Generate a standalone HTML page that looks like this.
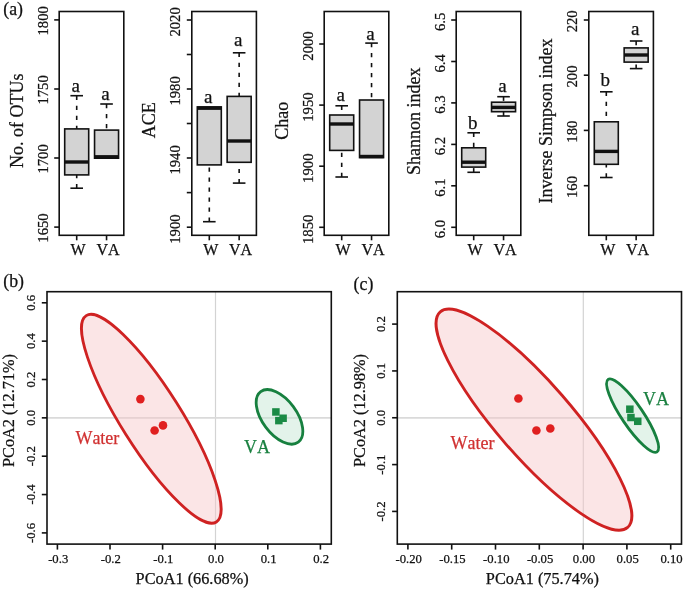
<!DOCTYPE html><html><head><meta charset="utf-8"><style>html,body{margin:0;padding:0;background:#fff;width:685px;height:589px;overflow:hidden;position:relative}</style></head><body><svg width="685" height="589" viewBox="0 0 685 589" style="position:absolute;left:0;top:0;will-change:transform">
<style>text{stroke-width:0.25px;paint-order:fill}</style>
<g font-family='"Liberation Serif", serif' style="font-kerning:none">
<line x1="54.20" y1="19.90" x2="59.20" y2="19.90" stroke="#111" stroke-width="1.6" />
<text transform="translate(47.80,20.80) rotate(-90)" text-anchor="middle" font-size="14.7" fill="#111" stroke="#111" >1800</text>
<line x1="54.20" y1="89.00" x2="59.20" y2="89.00" stroke="#111" stroke-width="1.6" />
<text transform="translate(47.80,89.90) rotate(-90)" text-anchor="middle" font-size="14.7" fill="#111" stroke="#111" >1750</text>
<line x1="54.20" y1="158.00" x2="59.20" y2="158.00" stroke="#111" stroke-width="1.6" />
<text transform="translate(47.80,158.90) rotate(-90)" text-anchor="middle" font-size="14.7" fill="#111" stroke="#111" >1700</text>
<line x1="54.20" y1="227.10" x2="59.20" y2="227.10" stroke="#111" stroke-width="1.6" />
<text transform="translate(47.80,228.00) rotate(-90)" text-anchor="middle" font-size="14.7" fill="#111" stroke="#111" >1650</text>
<text transform="translate(22.90,120.70) rotate(-90)" text-anchor="middle" font-size="18" fill="#111" stroke="#111" >No. of OTUs</text>
<line x1="76.70" y1="95.70" x2="76.70" y2="128.90" stroke="#111" stroke-width="1.6" stroke-dasharray="4.2,5.8"/>
<line x1="70.40" y1="95.70" x2="83.00" y2="95.70" stroke="#111" stroke-width="1.6" />
<line x1="76.70" y1="188.20" x2="76.70" y2="174.90" stroke="#111" stroke-width="1.6" stroke-dasharray="4.2,5.8"/>
<line x1="70.40" y1="188.20" x2="83.00" y2="188.20" stroke="#111" stroke-width="1.6" />
<rect x="64.70" y="128.90" width="24.00" height="46.00" fill="#d3d3d3" stroke="#111" stroke-width="1.6"/>
<line x1="64.70" y1="162.00" x2="88.70" y2="162.00" stroke="#111" stroke-width="3.4" />
<text x="75.70" y="91.90" text-anchor="middle" font-size="19" fill="#111" stroke="#111" >a</text>
<line x1="76.70" y1="235.30" x2="76.70" y2="240.30" stroke="#111" stroke-width="1.6" />
<text x="78.10" y="255.40" text-anchor="middle" font-size="16" fill="#111" stroke="#111" >W</text>
<line x1="106.55" y1="104.00" x2="106.55" y2="130.10" stroke="#111" stroke-width="1.6" stroke-dasharray="4.2,5.8"/>
<line x1="100.25" y1="104.00" x2="112.85" y2="104.00" stroke="#111" stroke-width="1.6" />
<rect x="94.55" y="130.10" width="24.00" height="28.10" fill="#d3d3d3" stroke="#111" stroke-width="1.6"/>
<line x1="94.55" y1="156.80" x2="118.55" y2="156.80" stroke="#111" stroke-width="3.4" />
<text x="105.55" y="100.00" text-anchor="middle" font-size="19" fill="#111" stroke="#111" >a</text>
<line x1="106.55" y1="235.30" x2="106.55" y2="240.30" stroke="#111" stroke-width="1.6" />
<text x="107.95" y="255.40" text-anchor="middle" font-size="16" fill="#111" stroke="#111" >VA</text>
<rect x="59.20" y="11.50" width="64.60" height="223.80" fill="none" stroke="#111" stroke-width="1.6"/>
<line x1="186.80" y1="20.00" x2="191.80" y2="20.00" stroke="#111" stroke-width="1.6" />
<text transform="translate(180.40,21.90) rotate(-90)" text-anchor="middle" font-size="14.7" fill="#111" stroke="#111" >2020</text>
<line x1="186.80" y1="54.50" x2="191.80" y2="54.50" stroke="#111" stroke-width="1.6" />
<line x1="186.80" y1="89.00" x2="191.80" y2="89.00" stroke="#111" stroke-width="1.6" />
<text transform="translate(180.40,90.90) rotate(-90)" text-anchor="middle" font-size="14.7" fill="#111" stroke="#111" >1980</text>
<line x1="186.80" y1="123.50" x2="191.80" y2="123.50" stroke="#111" stroke-width="1.6" />
<line x1="186.80" y1="158.00" x2="191.80" y2="158.00" stroke="#111" stroke-width="1.6" />
<text transform="translate(180.40,159.90) rotate(-90)" text-anchor="middle" font-size="14.7" fill="#111" stroke="#111" >1940</text>
<line x1="186.80" y1="192.60" x2="191.80" y2="192.60" stroke="#111" stroke-width="1.6" />
<line x1="186.80" y1="227.20" x2="191.80" y2="227.20" stroke="#111" stroke-width="1.6" />
<text transform="translate(180.40,229.10) rotate(-90)" text-anchor="middle" font-size="14.7" fill="#111" stroke="#111" >1900</text>
<text transform="translate(154.80,120.30) rotate(-90)" text-anchor="middle" font-size="18" fill="#111" stroke="#111" >ACE</text>
<line x1="209.30" y1="221.70" x2="209.30" y2="164.90" stroke="#111" stroke-width="1.6" stroke-dasharray="4.2,5.8"/>
<line x1="203.00" y1="221.70" x2="215.60" y2="221.70" stroke="#111" stroke-width="1.6" />
<rect x="197.30" y="106.90" width="24.00" height="58.00" fill="#d3d3d3" stroke="#111" stroke-width="1.6"/>
<line x1="197.30" y1="108.20" x2="221.30" y2="108.20" stroke="#111" stroke-width="3.4" />
<text x="208.30" y="102.60" text-anchor="middle" font-size="19" fill="#111" stroke="#111" >a</text>
<line x1="209.30" y1="235.30" x2="209.30" y2="240.30" stroke="#111" stroke-width="1.6" />
<text x="210.70" y="255.40" text-anchor="middle" font-size="16" fill="#111" stroke="#111" >W</text>
<line x1="239.15" y1="52.80" x2="239.15" y2="96.40" stroke="#111" stroke-width="1.6" stroke-dasharray="4.2,5.8"/>
<line x1="232.85" y1="52.80" x2="245.45" y2="52.80" stroke="#111" stroke-width="1.6" />
<line x1="239.15" y1="183.10" x2="239.15" y2="162.30" stroke="#111" stroke-width="1.6" stroke-dasharray="4.2,5.8"/>
<line x1="232.85" y1="183.10" x2="245.45" y2="183.10" stroke="#111" stroke-width="1.6" />
<rect x="227.15" y="96.40" width="24.00" height="65.90" fill="#d3d3d3" stroke="#111" stroke-width="1.6"/>
<line x1="227.15" y1="141.00" x2="251.15" y2="141.00" stroke="#111" stroke-width="3.4" />
<text x="238.15" y="46.20" text-anchor="middle" font-size="19" fill="#111" stroke="#111" >a</text>
<line x1="239.15" y1="235.30" x2="239.15" y2="240.30" stroke="#111" stroke-width="1.6" />
<text x="240.55" y="255.40" text-anchor="middle" font-size="16" fill="#111" stroke="#111" >VA</text>
<rect x="191.80" y="11.50" width="64.60" height="223.80" fill="none" stroke="#111" stroke-width="1.6"/>
<line x1="319.20" y1="44.00" x2="324.20" y2="44.00" stroke="#111" stroke-width="1.6" />
<text transform="translate(312.80,46.00) rotate(-90)" text-anchor="middle" font-size="14.7" fill="#111" stroke="#111" >2000</text>
<line x1="319.20" y1="105.10" x2="324.20" y2="105.10" stroke="#111" stroke-width="1.6" />
<text transform="translate(312.80,107.10) rotate(-90)" text-anchor="middle" font-size="14.7" fill="#111" stroke="#111" >1950</text>
<line x1="319.20" y1="166.20" x2="324.20" y2="166.20" stroke="#111" stroke-width="1.6" />
<text transform="translate(312.80,168.20) rotate(-90)" text-anchor="middle" font-size="14.7" fill="#111" stroke="#111" >1900</text>
<line x1="319.20" y1="227.30" x2="324.20" y2="227.30" stroke="#111" stroke-width="1.6" />
<text transform="translate(312.80,229.30) rotate(-90)" text-anchor="middle" font-size="14.7" fill="#111" stroke="#111" >1850</text>
<text transform="translate(288.10,120.70) rotate(-90)" text-anchor="middle" font-size="18" fill="#111" stroke="#111" >Chao</text>
<line x1="341.70" y1="105.80" x2="341.70" y2="115.00" stroke="#111" stroke-width="1.6" stroke-dasharray="4.2,5.8"/>
<line x1="335.40" y1="105.80" x2="348.00" y2="105.80" stroke="#111" stroke-width="1.6" />
<line x1="341.70" y1="177.00" x2="341.70" y2="150.40" stroke="#111" stroke-width="1.6" stroke-dasharray="4.2,5.8"/>
<line x1="335.40" y1="177.00" x2="348.00" y2="177.00" stroke="#111" stroke-width="1.6" />
<rect x="329.70" y="115.00" width="24.00" height="35.40" fill="#d3d3d3" stroke="#111" stroke-width="1.6"/>
<line x1="329.70" y1="124.00" x2="353.70" y2="124.00" stroke="#111" stroke-width="3.4" />
<text x="340.70" y="101.30" text-anchor="middle" font-size="19" fill="#111" stroke="#111" >a</text>
<line x1="341.70" y1="235.30" x2="341.70" y2="240.30" stroke="#111" stroke-width="1.6" />
<text x="343.10" y="255.40" text-anchor="middle" font-size="16" fill="#111" stroke="#111" >W</text>
<line x1="371.55" y1="43.10" x2="371.55" y2="100.00" stroke="#111" stroke-width="1.6" stroke-dasharray="4.2,5.8"/>
<line x1="365.25" y1="43.10" x2="377.85" y2="43.10" stroke="#111" stroke-width="1.6" />
<rect x="359.55" y="100.00" width="24.00" height="57.60" fill="#d3d3d3" stroke="#111" stroke-width="1.6"/>
<line x1="359.55" y1="156.50" x2="383.55" y2="156.50" stroke="#111" stroke-width="3.4" />
<text x="370.55" y="39.70" text-anchor="middle" font-size="19" fill="#111" stroke="#111" >a</text>
<line x1="371.55" y1="235.30" x2="371.55" y2="240.30" stroke="#111" stroke-width="1.6" />
<text x="372.95" y="255.40" text-anchor="middle" font-size="16" fill="#111" stroke="#111" >VA</text>
<rect x="324.20" y="11.50" width="64.60" height="223.80" fill="none" stroke="#111" stroke-width="1.6"/>
<line x1="451.20" y1="20.00" x2="456.20" y2="20.00" stroke="#111" stroke-width="1.6" />
<text transform="translate(444.80,21.80) rotate(-90)" text-anchor="middle" font-size="14.7" fill="#111" stroke="#111" >6.5</text>
<line x1="451.20" y1="61.50" x2="456.20" y2="61.50" stroke="#111" stroke-width="1.6" />
<text transform="translate(444.80,63.30) rotate(-90)" text-anchor="middle" font-size="14.7" fill="#111" stroke="#111" >6.4</text>
<line x1="451.20" y1="102.90" x2="456.20" y2="102.90" stroke="#111" stroke-width="1.6" />
<text transform="translate(444.80,104.70) rotate(-90)" text-anchor="middle" font-size="14.7" fill="#111" stroke="#111" >6.3</text>
<line x1="451.20" y1="144.40" x2="456.20" y2="144.40" stroke="#111" stroke-width="1.6" />
<text transform="translate(444.80,146.20) rotate(-90)" text-anchor="middle" font-size="14.7" fill="#111" stroke="#111" >6.2</text>
<line x1="451.20" y1="185.80" x2="456.20" y2="185.80" stroke="#111" stroke-width="1.6" />
<text transform="translate(444.80,187.60) rotate(-90)" text-anchor="middle" font-size="14.7" fill="#111" stroke="#111" >6.1</text>
<line x1="451.20" y1="227.30" x2="456.20" y2="227.30" stroke="#111" stroke-width="1.6" />
<text transform="translate(444.80,229.10) rotate(-90)" text-anchor="middle" font-size="14.7" fill="#111" stroke="#111" >6.0</text>
<text transform="translate(420.00,121.25) rotate(-90)" text-anchor="middle" font-size="18" fill="#111" stroke="#111" >Shannon index</text>
<line x1="473.70" y1="132.80" x2="473.70" y2="147.80" stroke="#111" stroke-width="1.6" stroke-dasharray="4.2,5.8"/>
<line x1="467.40" y1="132.80" x2="480.00" y2="132.80" stroke="#111" stroke-width="1.6" />
<line x1="473.70" y1="172.30" x2="473.70" y2="167.10" stroke="#111" stroke-width="1.6" stroke-dasharray="4.2,5.8"/>
<line x1="467.40" y1="172.30" x2="480.00" y2="172.30" stroke="#111" stroke-width="1.6" />
<rect x="461.70" y="147.80" width="24.00" height="19.30" fill="#d3d3d3" stroke="#111" stroke-width="1.6"/>
<line x1="461.70" y1="162.20" x2="485.70" y2="162.20" stroke="#111" stroke-width="3.4" />
<text x="472.70" y="129.00" text-anchor="middle" font-size="19" fill="#111" stroke="#111" >b</text>
<line x1="473.70" y1="235.30" x2="473.70" y2="240.30" stroke="#111" stroke-width="1.6" />
<text x="475.10" y="255.40" text-anchor="middle" font-size="16" fill="#111" stroke="#111" >W</text>
<line x1="503.55" y1="96.70" x2="503.55" y2="102.20" stroke="#111" stroke-width="1.6" stroke-dasharray="4.2,5.8"/>
<line x1="497.25" y1="96.70" x2="509.85" y2="96.70" stroke="#111" stroke-width="1.6" />
<line x1="503.55" y1="116.00" x2="503.55" y2="111.70" stroke="#111" stroke-width="1.6" stroke-dasharray="4.2,5.8"/>
<line x1="497.25" y1="116.00" x2="509.85" y2="116.00" stroke="#111" stroke-width="1.6" />
<rect x="491.55" y="102.20" width="24.00" height="9.50" fill="#d3d3d3" stroke="#111" stroke-width="1.6"/>
<line x1="491.55" y1="107.40" x2="515.55" y2="107.40" stroke="#111" stroke-width="3.4" />
<text x="502.55" y="91.50" text-anchor="middle" font-size="19" fill="#111" stroke="#111" >a</text>
<line x1="503.55" y1="235.30" x2="503.55" y2="240.30" stroke="#111" stroke-width="1.6" />
<text x="504.95" y="255.40" text-anchor="middle" font-size="16" fill="#111" stroke="#111" >VA</text>
<rect x="456.20" y="11.50" width="64.60" height="223.80" fill="none" stroke="#111" stroke-width="1.6"/>
<line x1="583.80" y1="20.00" x2="588.80" y2="20.00" stroke="#111" stroke-width="1.6" />
<text transform="translate(577.40,21.30) rotate(-90)" text-anchor="middle" font-size="14.7" fill="#111" stroke="#111" >220</text>
<line x1="583.80" y1="75.20" x2="588.80" y2="75.20" stroke="#111" stroke-width="1.6" />
<text transform="translate(577.40,76.50) rotate(-90)" text-anchor="middle" font-size="14.7" fill="#111" stroke="#111" >200</text>
<line x1="583.80" y1="130.40" x2="588.80" y2="130.40" stroke="#111" stroke-width="1.6" />
<text transform="translate(577.40,131.70) rotate(-90)" text-anchor="middle" font-size="14.7" fill="#111" stroke="#111" >180</text>
<line x1="583.80" y1="185.70" x2="588.80" y2="185.70" stroke="#111" stroke-width="1.6" />
<text transform="translate(577.40,187.00) rotate(-90)" text-anchor="middle" font-size="14.7" fill="#111" stroke="#111" >160</text>
<text transform="translate(551.70,121.00) rotate(-90)" text-anchor="middle" font-size="18" fill="#111" stroke="#111" >Inverse Simpson index</text>
<line x1="606.30" y1="91.80" x2="606.30" y2="121.80" stroke="#111" stroke-width="1.6" stroke-dasharray="4.2,5.8"/>
<line x1="600.00" y1="91.80" x2="612.60" y2="91.80" stroke="#111" stroke-width="1.6" />
<line x1="606.30" y1="177.50" x2="606.30" y2="164.30" stroke="#111" stroke-width="1.6" stroke-dasharray="4.2,5.8"/>
<line x1="600.00" y1="177.50" x2="612.60" y2="177.50" stroke="#111" stroke-width="1.6" />
<rect x="594.30" y="121.80" width="24.00" height="42.50" fill="#d3d3d3" stroke="#111" stroke-width="1.6"/>
<line x1="594.30" y1="151.40" x2="618.30" y2="151.40" stroke="#111" stroke-width="3.4" />
<text x="605.30" y="85.80" text-anchor="middle" font-size="19" fill="#111" stroke="#111" >b</text>
<line x1="606.30" y1="235.30" x2="606.30" y2="240.30" stroke="#111" stroke-width="1.6" />
<text x="607.70" y="255.40" text-anchor="middle" font-size="16" fill="#111" stroke="#111" >W</text>
<line x1="636.15" y1="41.00" x2="636.15" y2="47.90" stroke="#111" stroke-width="1.6" stroke-dasharray="4.2,5.8"/>
<line x1="629.85" y1="41.00" x2="642.45" y2="41.00" stroke="#111" stroke-width="1.6" />
<line x1="636.15" y1="68.60" x2="636.15" y2="62.10" stroke="#111" stroke-width="1.6" stroke-dasharray="4.2,5.8"/>
<line x1="629.85" y1="68.60" x2="642.45" y2="68.60" stroke="#111" stroke-width="1.6" />
<rect x="624.15" y="47.90" width="24.00" height="14.20" fill="#d3d3d3" stroke="#111" stroke-width="1.6"/>
<line x1="624.15" y1="55.00" x2="648.15" y2="55.00" stroke="#111" stroke-width="3.4" />
<text x="635.15" y="35.10" text-anchor="middle" font-size="19" fill="#111" stroke="#111" >a</text>
<line x1="636.15" y1="235.30" x2="636.15" y2="240.30" stroke="#111" stroke-width="1.6" />
<text x="637.55" y="255.40" text-anchor="middle" font-size="16" fill="#111" stroke="#111" >VA</text>
<rect x="588.80" y="11.50" width="64.60" height="223.80" fill="none" stroke="#111" stroke-width="1.6"/>
<text x="3.30" y="15.00" text-anchor="start" font-size="17.8" fill="#111" stroke="#111" >(a)</text>
<line x1="215.50" y1="291.70" x2="215.50" y2="544.10" stroke="#d3d3d3" stroke-width="1.2" />
<line x1="47.00" y1="417.85" x2="331.30" y2="417.85" stroke="#dadada" stroke-width="1.6" />
<ellipse cx="151.30" cy="418.80" rx="122.00" ry="29.87" transform="rotate(57.77 151.30 418.80)" fill="rgba(246,197,199,0.45)" stroke="#cf2222" stroke-width="2.8"/>
<ellipse cx="279.50" cy="416.90" rx="31.50" ry="17.20" transform="rotate(53.40 279.50 416.90)" fill="rgba(193,228,208,0.45)" stroke="#17803f" stroke-width="2.8"/>
<circle cx="140.40" cy="399.10" r="4.3" fill="#e02020"/>
<circle cx="154.60" cy="430.50" r="4.3" fill="#e02020"/>
<circle cx="163.00" cy="425.40" r="4.3" fill="#e02020"/>
<rect x="272.15" y="408.20" width="7.5" height="7.5" fill="#1a8a45"/>
<rect x="279.35" y="414.50" width="7.5" height="7.5" fill="#1a8a45"/>
<rect x="275.10" y="416.85" width="7.5" height="7.5" fill="#1a8a45"/>
<text x="75.40" y="443.60" text-anchor="start" font-size="18" fill="#d03030" stroke="#d03030" >Water</text>
<text x="244.10" y="453.00" text-anchor="start" font-size="18" fill="#1a8040" stroke="#1a8040" >VA</text>
<line x1="57.40" y1="544.10" x2="57.40" y2="549.60" stroke="#111" stroke-width="1.6" />
<text x="58.20" y="562.60" text-anchor="middle" font-size="12.7" fill="#111" stroke="#111" >-0.3</text>
<line x1="110.00" y1="544.10" x2="110.00" y2="549.60" stroke="#111" stroke-width="1.6" />
<text x="110.80" y="562.60" text-anchor="middle" font-size="12.7" fill="#111" stroke="#111" >-0.2</text>
<line x1="162.60" y1="544.10" x2="162.60" y2="549.60" stroke="#111" stroke-width="1.6" />
<text x="163.40" y="562.60" text-anchor="middle" font-size="12.7" fill="#111" stroke="#111" >-0.1</text>
<line x1="215.20" y1="544.10" x2="215.20" y2="549.60" stroke="#111" stroke-width="1.6" />
<text x="216.00" y="562.60" text-anchor="middle" font-size="12.7" fill="#111" stroke="#111" >0.0</text>
<line x1="267.80" y1="544.10" x2="267.80" y2="549.60" stroke="#111" stroke-width="1.6" />
<text x="268.60" y="562.60" text-anchor="middle" font-size="12.7" fill="#111" stroke="#111" >0.1</text>
<line x1="320.40" y1="544.10" x2="320.40" y2="549.60" stroke="#111" stroke-width="1.6" />
<text x="321.20" y="562.60" text-anchor="middle" font-size="12.7" fill="#111" stroke="#111" >0.2</text>
<line x1="41.80" y1="302.80" x2="47.00" y2="302.80" stroke="#111" stroke-width="1.6" />
<text transform="translate(35.00,302.80) rotate(-90)" text-anchor="middle" font-size="12.7" fill="#111" stroke="#111" >0.6</text>
<line x1="41.80" y1="341.15" x2="47.00" y2="341.15" stroke="#111" stroke-width="1.6" />
<text transform="translate(35.00,341.15) rotate(-90)" text-anchor="middle" font-size="12.7" fill="#111" stroke="#111" >0.4</text>
<line x1="41.80" y1="379.50" x2="47.00" y2="379.50" stroke="#111" stroke-width="1.6" />
<text transform="translate(35.00,379.50) rotate(-90)" text-anchor="middle" font-size="12.7" fill="#111" stroke="#111" >0.2</text>
<line x1="41.80" y1="417.85" x2="47.00" y2="417.85" stroke="#111" stroke-width="1.6" />
<text transform="translate(35.00,417.85) rotate(-90)" text-anchor="middle" font-size="12.7" fill="#111" stroke="#111" >0.0</text>
<line x1="41.80" y1="456.20" x2="47.00" y2="456.20" stroke="#111" stroke-width="1.6" />
<text transform="translate(35.00,456.20) rotate(-90)" text-anchor="middle" font-size="12.7" fill="#111" stroke="#111" >-0.2</text>
<line x1="41.80" y1="494.55" x2="47.00" y2="494.55" stroke="#111" stroke-width="1.6" />
<text transform="translate(35.00,494.55) rotate(-90)" text-anchor="middle" font-size="12.7" fill="#111" stroke="#111" >-0.4</text>
<line x1="41.80" y1="532.90" x2="47.00" y2="532.90" stroke="#111" stroke-width="1.6" />
<text transform="translate(35.00,532.90) rotate(-90)" text-anchor="middle" font-size="12.7" fill="#111" stroke="#111" >-0.6</text>
<text x="192.15" y="584.00" text-anchor="middle" font-size="16.3" fill="#111" stroke="#111" >PCoA1 (66.68%)</text>
<text transform="translate(13.60,410.50) rotate(-90)" text-anchor="middle" font-size="16.3" fill="#111" stroke="#111" >PCoA2 (12.71%)</text>
<rect x="47.00" y="291.70" width="284.30" height="252.40" fill="none" stroke="#111" stroke-width="1.6"/>
<text x="3.30" y="287.30" text-anchor="start" font-size="17.8" fill="#111" stroke="#111" >(b)</text>
<line x1="583.30" y1="291.70" x2="583.30" y2="544.10" stroke="#d3d3d3" stroke-width="1.2" />
<line x1="397.30" y1="417.85" x2="681.50" y2="417.85" stroke="#dadada" stroke-width="1.6" />
<ellipse cx="533.95" cy="419.65" rx="142.80" ry="37.18" transform="rotate(48.99 533.95 419.65)" fill="rgba(246,197,199,0.45)" stroke="#cf2222" stroke-width="2.8"/>
<ellipse cx="632.60" cy="415.60" rx="43.70" ry="10.70" transform="rotate(55.95 632.60 415.60)" fill="rgba(193,228,208,0.45)" stroke="#17803f" stroke-width="2.8"/>
<circle cx="518.40" cy="398.50" r="4.3" fill="#e02020"/>
<circle cx="536.40" cy="430.50" r="4.3" fill="#e02020"/>
<circle cx="550.30" cy="428.50" r="4.3" fill="#e02020"/>
<rect x="626.10" y="405.45" width="7.5" height="7.5" fill="#1a8a45"/>
<rect x="627.20" y="413.75" width="7.5" height="7.5" fill="#1a8a45"/>
<rect x="634.00" y="417.55" width="7.5" height="7.5" fill="#1a8a45"/>
<text x="450.50" y="448.70" text-anchor="start" font-size="18" fill="#d03030" stroke="#d03030" >Water</text>
<text x="643.00" y="404.80" text-anchor="start" font-size="18" fill="#1a8040" stroke="#1a8040" >VA</text>
<line x1="407.90" y1="544.10" x2="407.90" y2="549.60" stroke="#111" stroke-width="1.6" />
<text x="408.70" y="562.60" text-anchor="middle" font-size="12.7" fill="#111" stroke="#111" >-0.20</text>
<line x1="451.70" y1="544.10" x2="451.70" y2="549.60" stroke="#111" stroke-width="1.6" />
<text x="452.50" y="562.60" text-anchor="middle" font-size="12.7" fill="#111" stroke="#111" >-0.15</text>
<line x1="495.50" y1="544.10" x2="495.50" y2="549.60" stroke="#111" stroke-width="1.6" />
<text x="496.30" y="562.60" text-anchor="middle" font-size="12.7" fill="#111" stroke="#111" >-0.10</text>
<line x1="539.30" y1="544.10" x2="539.30" y2="549.60" stroke="#111" stroke-width="1.6" />
<text x="540.10" y="562.60" text-anchor="middle" font-size="12.7" fill="#111" stroke="#111" >-0.05</text>
<line x1="583.10" y1="544.10" x2="583.10" y2="549.60" stroke="#111" stroke-width="1.6" />
<text x="583.90" y="562.60" text-anchor="middle" font-size="12.7" fill="#111" stroke="#111" >0.00</text>
<line x1="626.90" y1="544.10" x2="626.90" y2="549.60" stroke="#111" stroke-width="1.6" />
<text x="627.70" y="562.60" text-anchor="middle" font-size="12.7" fill="#111" stroke="#111" >0.05</text>
<line x1="670.70" y1="544.10" x2="670.70" y2="549.60" stroke="#111" stroke-width="1.6" />
<text x="671.50" y="562.60" text-anchor="middle" font-size="12.7" fill="#111" stroke="#111" >0.10</text>
<line x1="392.10" y1="324.10" x2="397.30" y2="324.10" stroke="#111" stroke-width="1.6" />
<text transform="translate(385.30,324.10) rotate(-90)" text-anchor="middle" font-size="12.7" fill="#111" stroke="#111" >0.2</text>
<line x1="392.10" y1="370.93" x2="397.30" y2="370.93" stroke="#111" stroke-width="1.6" />
<text transform="translate(385.30,370.93) rotate(-90)" text-anchor="middle" font-size="12.7" fill="#111" stroke="#111" >0.1</text>
<line x1="392.10" y1="417.76" x2="397.30" y2="417.76" stroke="#111" stroke-width="1.6" />
<text transform="translate(385.30,417.76) rotate(-90)" text-anchor="middle" font-size="12.7" fill="#111" stroke="#111" >0.0</text>
<line x1="392.10" y1="464.59" x2="397.30" y2="464.59" stroke="#111" stroke-width="1.6" />
<text transform="translate(385.30,464.59) rotate(-90)" text-anchor="middle" font-size="12.7" fill="#111" stroke="#111" >-0.1</text>
<line x1="392.10" y1="511.42" x2="397.30" y2="511.42" stroke="#111" stroke-width="1.6" />
<text transform="translate(385.30,511.42) rotate(-90)" text-anchor="middle" font-size="12.7" fill="#111" stroke="#111" >-0.2</text>
<text x="542.40" y="584.00" text-anchor="middle" font-size="16.3" fill="#111" stroke="#111" >PCoA1 (75.74%)</text>
<text transform="translate(364.80,410.50) rotate(-90)" text-anchor="middle" font-size="16.3" fill="#111" stroke="#111" >PCoA2 (12.98%)</text>
<rect x="397.30" y="291.70" width="284.20" height="252.40" fill="none" stroke="#111" stroke-width="1.6"/>
<text x="353.60" y="289.90" text-anchor="start" font-size="17.8" fill="#111" stroke="#111" >(c)</text>
</g></svg></body></html>
